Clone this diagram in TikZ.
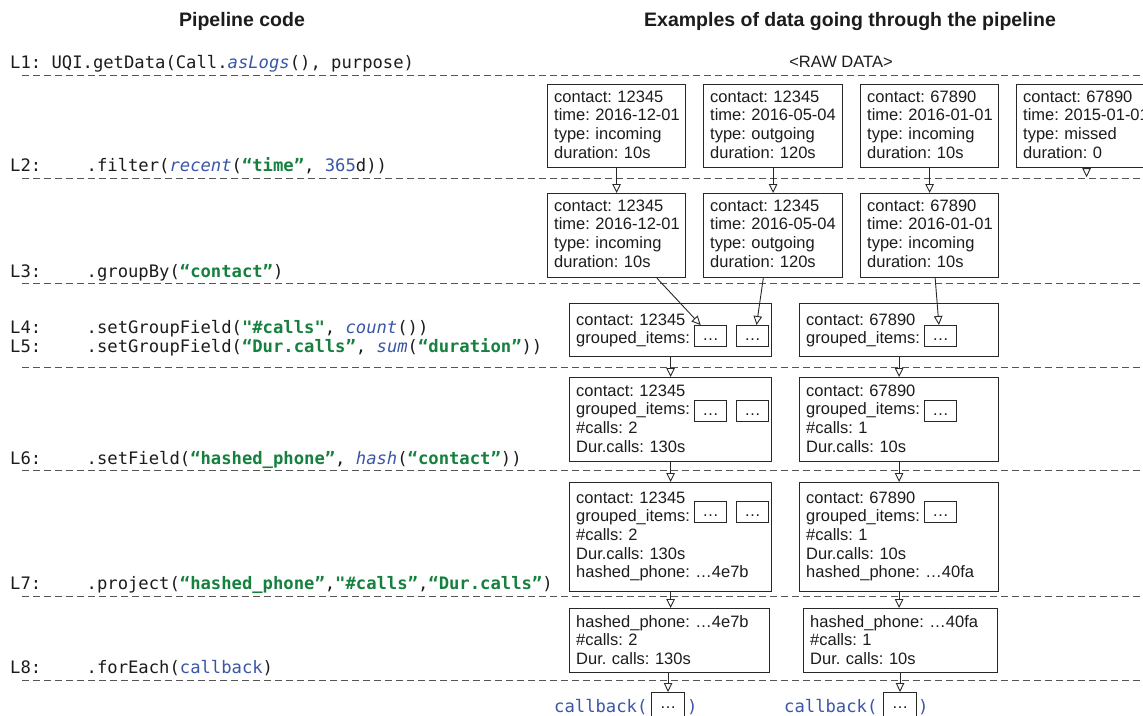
\documentclass[tikz,border=0pt]{standalone}
\usepackage{fontspec}
\setmainfont{Liberation Sans}
\newfontfamily\codefont{DejaVu Sans Mono}
\usetikzlibrary{arrows.meta,calc}
\definecolor{codegreen}{RGB}{22,128,62}
\definecolor{codeblue}{RGB}{58,86,168}
\definecolor{boxline}{RGB}{40,40,40}
\definecolor{dashgray}{RGB}{85,85,85}
\definecolor{txt}{RGB}{28,28,28}
\newcommand{\cstr}[1]{\textcolor{codegreen}{\bfseries #1}}
\newcommand{\cfn}[1]{\textcolor{codeblue}{\itshape #1}}
\newcommand{\cblue}[1]{\textcolor{codeblue}{#1}}
\newcommand{\boxfont}{\fontsize{16.5}{18.7}\selectfont\frenchspacing}
\newcommand{\lbl}[1]{\makebox[76.5pt][l]{#1}}
\tikzset{
  dline/.style={draw=dashgray, line width=1pt, dash pattern=on 7pt off 4pt},
  databox/.style={draw=boxline, line width=1.2pt, anchor=north west, inner sep=0pt},
  boxtext/.style={anchor=base west, inner sep=0pt, text width=230pt, align=left, font=\boxfont, text=txt},
  smallbox/.style={draw=boxline, line width=1.1pt, anchor=north west, minimum width=32pt, minimum height=21pt, inner sep=0pt, font=\boxfont, text=txt, text height=12pt, text depth=3pt},
  cbbox/.style={draw=boxline, line width=1.1pt, anchor=north west, minimum width=33pt, minimum height=30pt, inner sep=0pt, font=\boxfont, text=txt, text height=12pt, text depth=10pt},
  code/.style={anchor=base west, inner sep=0pt, font=\codefont\fontsize{17.2}{19}\selectfont\frenchspacing, text=txt},
  cbtext/.style={anchor=base west, inner sep=0pt, font=\codefont\fontsize{17.2}{19}\selectfont, text=codeblue},
  flow/.style={-{Triangle[open, length=9pt, width=8.5pt, fill=white]}, line width=0.9pt, draw=boxline},
  header/.style={anchor=base, inner sep=0pt, font=\bfseries\fontsize{19.5}{22}\selectfont, text=txt},
}
\begin{document}
\frenchspacing
\begin{tikzpicture}[x=1pt,y=-1pt]
\clip (0,0) rectangle (1143,715);
\fill[white] (0,0) rectangle (1143,715);

% headers
\node[header] (h1) at (242,26) {Pipeline code};
\node[header] (h2) at (850,26) {Examples of data going through the pipeline};
\node[anchor=base, inner sep=0pt, font=\boxfont, text=txt] (raw) at (841,67) {<RAW DATA>};

% separators
\foreach \yy in {75,178,283,367,470,596,680}
  \draw[dline] (22,\yy) -- (1150,\yy);

% code lines
\node[code] (l1) at (10,68) {L1: UQI.getData(Call.\cfn{asLogs}(), purpose)};
\node[code] (l2) at (10,171) {\lbl{L2:}.filter(\cfn{recent}(\cstr{“time”}, \cblue{365}d))};
\node[code] (l3) at (10,277) {\lbl{L3:}.groupBy(\cstr{“contact”})};
\node[code] (l4) at (10,333) {\lbl{L4:}.setGroupField(\cstr{"\#calls"}, \cfn{count}())};
\node[code] (l5) at (10,352) {\lbl{L5:}.setGroupField(\cstr{“Dur.calls”}, \cfn{sum}(\cstr{“duration”}))};
\node[code] (l6) at (10,464) {\lbl{L6:}.setField(\cstr{“hashed\_phone”}, \cfn{hash}(\cstr{“contact”}))};
\node[code] (l7) at (10,589) {\lbl{L7:}.project(\cstr{“hashed\_phone”},\cstr{"\#calls”},\cstr{“Dur.calls”})};
\node[code] (l8) at (10,673) {\lbl{L8:}.forEach(\cblue{callback})};

% row 1: raw data
\node[databox, minimum width=138pt, minimum height=83pt] (B11) at (547,84) {};
\node[databox, minimum width=139pt, minimum height=83pt] (B12) at (703,84) {};
\node[databox, minimum width=138pt, minimum height=83pt] (B13) at (860,84) {};
\node[databox, minimum width=140pt, minimum height=83pt] (B14) at (1016,84) {};
\node[boxtext] (T11) at ($(B11.north west)+(7,18)$) {contact: 12345\\time: 2016-12-01\\type: incoming\\duration: 10s};
\node[boxtext] (T12) at ($(B12.north west)+(7,18)$) {contact: 12345\\time: 2016-05-04\\type: outgoing\\duration: 120s};
\node[boxtext] (T13) at ($(B13.north west)+(7,18)$) {contact: 67890\\time: 2016-01-01\\type: incoming\\duration: 10s};
\node[boxtext] (T14) at ($(B14.north west)+(7,18)$) {contact: 67890\\time: 2015-01-01\\type: missed\\duration: 0};

% row 2: filtered
\node[databox, minimum width=138pt, minimum height=84pt] (B21) at (547,193) {};
\node[databox, minimum width=139pt, minimum height=84pt] (B22) at (703,193) {};
\node[databox, minimum width=138pt, minimum height=84pt] (B23) at (860,193) {};
\node[boxtext] (T21) at ($(B21.north west)+(7,18)$) {contact: 12345\\time: 2016-12-01\\type: incoming\\duration: 10s};
\node[boxtext] (T22) at ($(B22.north west)+(7,18)$) {contact: 12345\\time: 2016-05-04\\type: outgoing\\duration: 120s};
\node[boxtext] (T23) at ($(B23.north west)+(7,18)$) {contact: 67890\\time: 2016-01-01\\type: incoming\\duration: 10s};

% row 3: grouped
\node[databox, minimum width=202pt, minimum height=53pt] (G1) at (569,303) {};
\node[databox, minimum width=199pt, minimum height=53pt] (G2) at (799,303) {};
\node[boxtext] (TG1) at ($(G1.north west)+(7,22)$) {contact: 12345\\grouped\_items:};
\node[boxtext] (TG2) at ($(G2.north west)+(7,22)$) {contact: 67890\\grouped\_items:};
\node[smallbox] (A1) at (694,325) {…};
\node[smallbox] (A2) at (736,325) {…};
\node[smallbox] (C3) at (924,325) {…};

% row 4: group fields
\node[databox, minimum width=202pt, minimum height=84pt] (H1) at (569,377) {};
\node[databox, minimum width=199pt, minimum height=84pt] (H2) at (799,377) {};
\node[boxtext] (TH1) at ($(H1.north west)+(7,19)$) {contact: 12345\\grouped\_items:\\\#calls: 2\\Dur.calls: 130s};
\node[boxtext] (TH2) at ($(H2.north west)+(7,19)$) {contact: 67890\\grouped\_items:\\\#calls: 1\\Dur.calls: 10s};
\node[smallbox] (HA1) at (694,400) {…};
\node[smallbox] (HA2) at (736,400) {…};
\node[smallbox] (HB1) at (924,400) {…};

% row 5: hashed
\node[databox, minimum width=202pt, minimum height=109pt] (S1) at (569,482) {};
\node[databox, minimum width=199pt, minimum height=109pt] (S2) at (799,482) {};
\node[boxtext] (TS1) at ($(S1.north west)+(7,21)$) {contact: 12345\\grouped\_items:\\\#calls: 2\\Dur.calls: 130s\\hashed\_phone: …4e7b};
\node[boxtext] (TS2) at ($(S2.north west)+(7,21)$) {contact: 67890\\grouped\_items:\\\#calls: 1\\Dur.calls: 10s\\hashed\_phone: …40fa};
\node[smallbox] (SA1) at (694,501) {…};
\node[smallbox] (SA2) at (736,501) {…};
\node[smallbox] (SB1) at (924,501) {…};

% row 6: projected
\node[databox, minimum width=200pt, minimum height=64pt] (P1) at (569,608) {};
\node[databox, minimum width=194pt, minimum height=64pt] (P2) at (803,608) {};
\node[boxtext] (TP1) at ($(P1.north west)+(7,19)$) {hashed\_phone: …4e7b\\\#calls: 2\\Dur. calls: 130s};
\node[boxtext] (TP2) at ($(P2.north west)+(7,19)$) {hashed\_phone: …40fa\\\#calls: 1\\Dur. calls: 10s};

% callbacks
\node[cbbox] (K1) at (651,692) {…};
\node[cbbox] (K2) at (883,692) {…};
\node[cbtext] (cb1) at (554,712) {callback(};
\node[cbtext] (cp1) at (687,712) {)};
\node[cbtext] (cb2) at (784,712) {callback(};
\node[cbtext] (cp2) at (918,712) {)};

% connectors
\draw[flow] (B11.south) -- (B21.north);
\draw[flow] (B12.south) -- (B22.north);
\draw[flow] (B13.south) -- (B23.north);
\coordinate (drop) at ($(B14.south)+(0,9)$);
\draw[flow] (B14.south) -- (drop);

\draw[flow] ($(B21.south west)!0.79!(B21.south east)$) -- ($(A1.north west)!0.2!(A1.north east)$);
\draw[flow] ($(B22.south west)!0.43!(B22.south east)$) -- ($(A2.north west)!0.62!(A2.north east)$);
\draw[flow] ($(B23.south west)!0.54!(B23.south east)$) -- ($(C3.north west)!0.45!(C3.north east)$);

\draw[flow] (G1.south) -- (H1.north);
\draw[flow] (G2.south) -- (H2.north);
\draw[flow] (H1.south) -- (S1.north);
\draw[flow] (H2.south) -- (S2.north);
\draw[flow] (S1.south) -- (S1.south |- P1.north);
\draw[flow] (S2.south) -- (S2.south |- P2.north);
\draw[flow] (K1.north |- P1.south) -- (K1.north);
\draw[flow] (K2.north |- P2.south) -- (K2.north);
\end{tikzpicture}
\end{document}
